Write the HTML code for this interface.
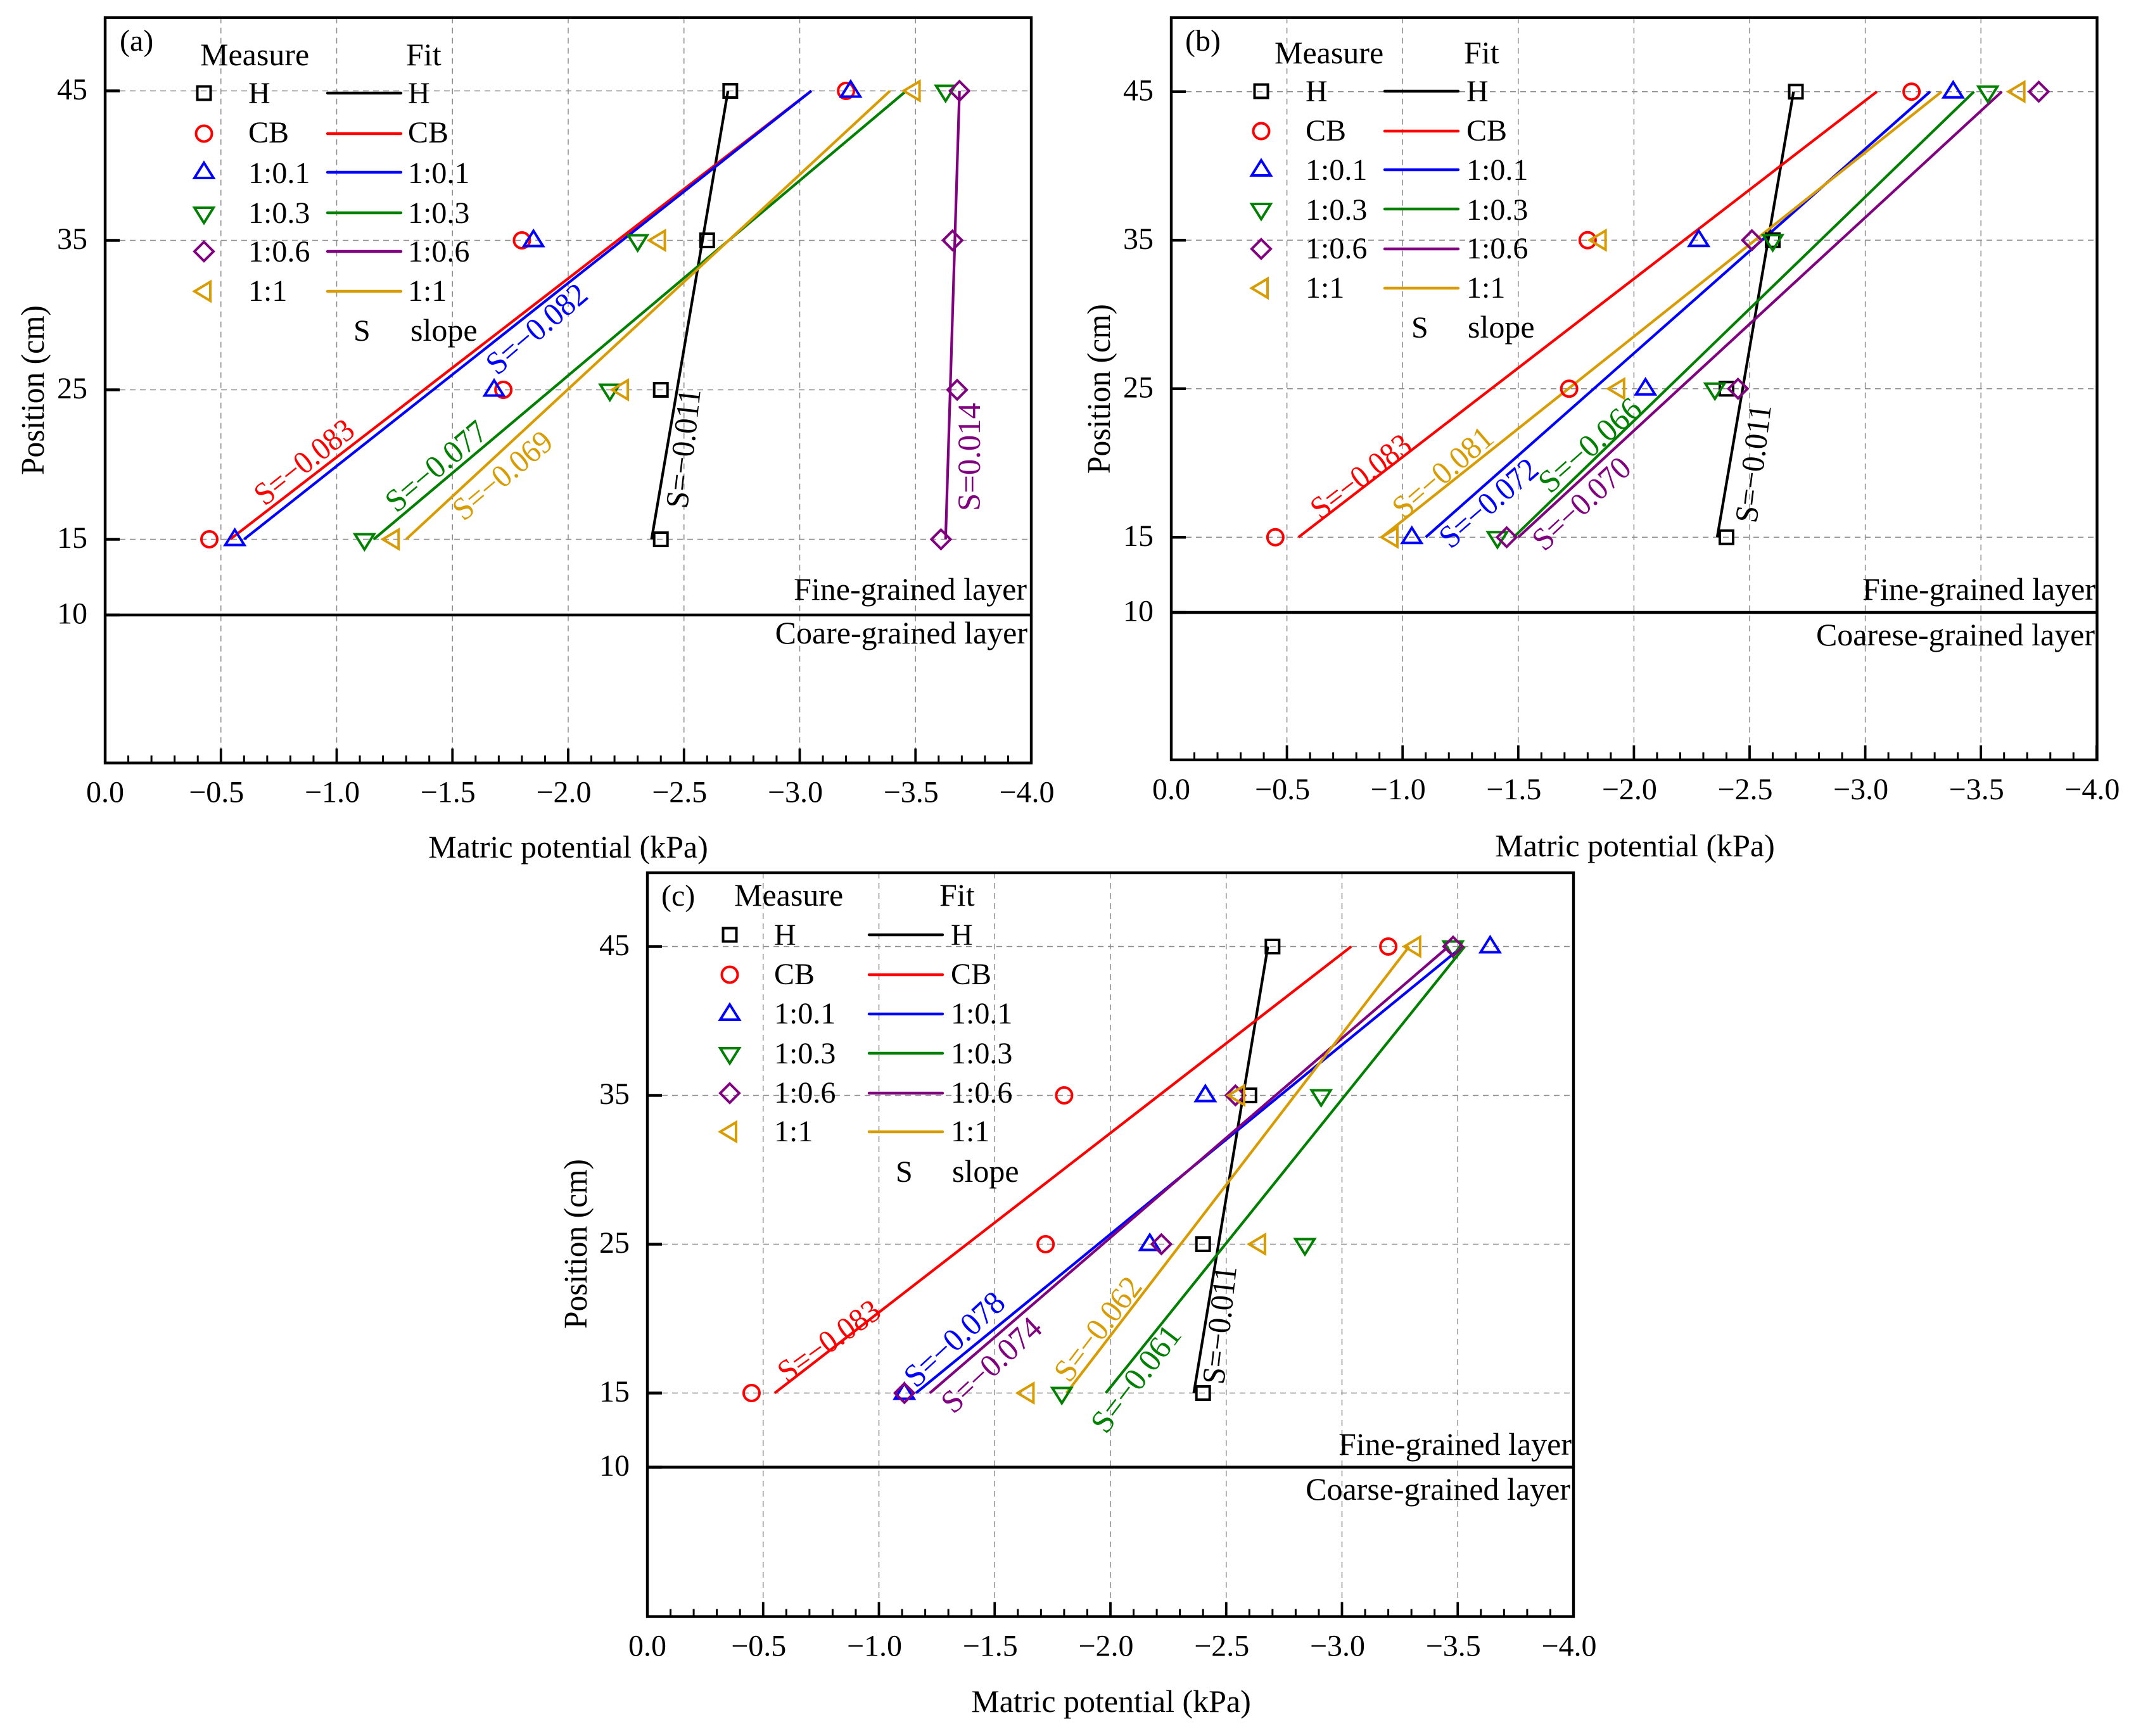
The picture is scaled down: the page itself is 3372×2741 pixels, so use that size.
<!DOCTYPE html>
<html lang="en">
<head>
<meta charset="utf-8">
<title>Matric potential profiles</title>
<style>
html,body{margin:0;padding:0;background:#fff;}
svg{display:block;font-family:"Liberation Serif",serif;}
</style>
</head>
<body>
<svg id="chart" xmlns="http://www.w3.org/2000/svg" width="3372" height="2741" viewBox="0 0 3372 2741"></svg>
<script>
// ---------- shared categories and tick labels ----------
const seriesNames = ['H', 'CB', '1:0.1', '1:0.3', '1:0.6', '1:1'];
const seriesKeys = ['h', 'cb', 'r01', 'r03', 'r06', 'r1'];
const measuredDepths = [45, 35, 25, 15];
const fitDepths = [15, 45];
const xTickValues = [0, -0.5, -1, -1.5, -2, -2.5, -3, -3.5, -4];
const xTickLabels = ['0.0', '−0.5', '−1.0', '−1.5', '−2.0', '−2.5', '−3.0', '−3.5', '−4.0'];
const yTickValues = [45, 35, 25, 15, 10];
const yTickLabels = ['45', '35', '25', '15', '10'];

// ---------- panel (a) values ----------
const aMeasuredH = [-2.70, -2.60, -2.40, -2.40];
const aMeasuredCB = [-3.20, -1.80, -1.72, -0.45];
const aMeasured01 = [-3.22, -1.85, -1.68, -0.56];
const aMeasured03 = [-3.63, -2.30, -2.18, -1.12];
const aMeasured06 = [-3.69, -3.66, -3.68, -3.61];
const aMeasured1 = [-3.49, -2.39, -2.23, -1.24];
const aFitH = [-2.36, -2.69];
const aFitCB = [-0.54, -3.05];
const aFit01 = [-0.60, -3.05];
const aFit03 = [-1.16, -3.46];
const aFit06 = [-3.63, -3.69];
const aFit1 = [-1.30, -3.39];
const aSlopes = ['S=−0.011', 'S=−0.083', 'S=−0.082', 'S=−0.077', 'S=0.014', 'S=−0.069'];

// ---------- panel (b) values ----------
const bMeasuredH = [-2.70, -2.60, -2.40, -2.40];
const bMeasuredCB = [-3.20, -1.80, -1.72, -0.45];
const bMeasured01 = [-3.38, -2.28, -2.05, -1.04];
const bMeasured03 = [-3.53, -2.60, -2.35, -1.41];
const bMeasured06 = [-3.75, -2.51, -2.45, -1.45];
const bMeasured1 = [-3.66, -1.85, -1.93, -0.95];
const bFitH = [-2.36, -2.69];
const bFitCB = [-0.55, -3.05];
const bFit01 = [-1.10, -3.28];
const bFit03 = [-1.48, -3.47];
const bFit06 = [-1.50, -3.59];
const bFit1 = [-0.91, -3.33];
const bSlopes = ['S=−0.011', 'S=−0.083', 'S=−0.072', 'S=−0.066', 'S=−0.070', 'S=−0.081'];

// ---------- panel (c) values ----------
const cMeasuredH = [-2.70, -2.60, -2.40, -2.40];
const cMeasuredCB = [-3.20, -1.80, -1.72, -0.45];
const cMeasured01 = [-3.64, -2.41, -2.17, -1.11];
const cMeasured03 = [-3.48, -2.91, -2.84, -1.79];
const cMeasured06 = [-3.48, -2.54, -2.22, -1.11];
const cMeasured1 = [-3.31, -2.55, -2.64, -1.64];
const cFitH = [-2.36, -2.68];
const cFitCB = [-0.55, -3.04];
const cFit01 = [-1.16, -3.52];
const cFit03 = [-1.98, -3.53];
const cFit06 = [-1.22, -3.46];
const cFit1 = [-1.81, -3.29];
const cSlopes = ['S=−0.011', 'S=−0.083', 'S=−0.078', 'S=−0.061', 'S=−0.074', 'S=−0.062'];

// ---------- styling and layout (not data) ----------
const seriesColors = ['#000000', '#ff0000', '#0000ff', '#008000', '#800080', '#d89c00'];
const FONT_MAIN = 48;
const FONT_SLOPE = 51;

const panels = [
  {
    id: 'a', tag: '(a)', left: 166, right: 1628, top: 27.7, bottom: 1204.7, y0: 1205.5, yPer: 23.6, xPer: 365.5,
    measured: [aMeasuredH, aMeasuredCB, aMeasured01, aMeasured03, aMeasured06, aMeasured1],
    fit: [aFitH, aFitCB, aFit01, aFit03, aFit06, aFit1],
    slopes: aSlopes,
    slopePlace: [[1085,804,1106,616],[418,800,563,685],[785,594,931,470],[626,811,773,687],[1547,807,1547,636],[732,824,876,703]],
    layerLineY: 971,
    fine: 'Fine-grained layer', fineX: 1621, fineY: 947,
    coarse: 'Coare-grained layer', coarseX: 1622, coarseY: 1016,
    tagX: 189, tagY: 80,
    headY: 103, measureX: 316, fitX: 641,
    markerX: 322, textX: 392, lineX1: 517, lineX2: 633, fitTextX: 644,
    rowY: [147, 211, 272, 336, 397, 460],
    rowBase: [163, 225, 289, 352, 413, 475],
    sX: 558, slopeX: 648, slopeY: 538,
    xTitleX: 897, xTitleY: 1354, yTitleX: 69, yTitleY: 616
  },
  {
    id: 'b', tag: '(b)', left: 1849, right: 3310.5, top: 27.7, bottom: 1199.8, y0: 1200, yPer: 23.45, xPer: 365.2,
    measured: [bMeasuredH, bMeasuredCB, bMeasured01, bMeasured03, bMeasured06, bMeasured1],
    fit: [bFitH, bFitCB, bFit01, bFit03, bFit06, bFit1],
    slopes: bSlopes,
    slopePlace: [[2773,827,2796,641],[2085,822,2232,709],[2290,868,2432,746],[2447,781,2595,650],[2438,872,2578,743],[2216,821,2361,696]],
    layerLineY: 967,
    fine: 'Fine-grained layer', fineX: 3308, fineY: 947,
    coarse: 'Coarese-grained layer', coarseX: 3307, coarseY: 1019,
    tagX: 1871, tagY: 80,
    headY: 100, measureX: 2012, fitX: 2311,
    markerX: 1991, textX: 2061, lineX1: 2186, lineX2: 2302, fitTextX: 2315,
    rowY: [144, 207, 268, 330, 393, 455],
    rowBase: [160, 222, 284, 347, 408, 470],
    sX: 2228, slopeX: 2317, slopeY: 533,
    xTitleX: 2581, xTitleY: 1352, yTitleX: 1752, yTitleY: 614
  },
  {
    id: 'c', tag: '(c)', left: 1022, right: 2484, top: 1378, bottom: 2552.5, y0: 2552, yPer: 23.5, xPer: 365.5,
    measured: [cMeasuredH, cMeasuredCB, cMeasured01, cMeasured03, cMeasured06, cMeasured1],
    fit: [cFitH, cFitCB, cFit01, cFit03, cFit06, cFit1],
    slopes: cSlopes,
    slopePlace: [[1932,2187,1952,2001],[1243,2185,1394,2077],[1446,2193,1590,2061],[1746,2266,1867,2108],[1505,2234,1648,2101],[1688,2185,1805,2032]],
    layerLineY: 2316.5,
    fine: 'Fine-grained layer', fineX: 2481, fineY: 2297,
    coarse: 'Coarse-grained layer', coarseX: 2479, coarseY: 2368,
    tagX: 1044, tagY: 1430,
    headY: 1430, measureX: 1159, fitX: 1483,
    markerX: 1152, textX: 1222, lineX1: 1372, lineX2: 1488, fitTextX: 1501,
    rowY: [1476, 1539, 1601, 1663, 1726, 1787],
    rowBase: [1492, 1554, 1616, 1679, 1741, 1802],
    sX: 1414, slopeX: 1503, slopeY: 1866,
    xTitleX: 1754, xTitleY: 2703, yTitleX: 926, yTitleY: 1964
  }
];

// ---------- drawing helpers ----------
const NS = 'http://www.w3.org/2000/svg';
const root = document.getElementById('chart');

function make(tag, parent, attrs, content) {
  const node = document.createElementNS(NS, tag);
  for (const k in attrs) node.setAttribute(k, attrs[k]);
  if (content !== undefined) node.textContent = content;
  parent.appendChild(node);
  return node;
}

function markerShape(kind, parent, cx, cy, color) {
  const base = { fill: 'none', stroke: color, 'stroke-width': 4, 'stroke-miterlimit': 8 };
  if (kind === 0) return make('rect', parent, Object.assign({ x: cx - 10.5, y: cy - 10.5, width: 21, height: 21 }, base));
  if (kind === 1) return make('circle', parent, Object.assign({ cx: cx, cy: cy, r: 12.5 }, base));
  let pts;
  if (kind === 2) pts = [[cx, cy - 15], [cx + 15, cy + 9], [cx - 15, cy + 9]];
  if (kind === 3) pts = [[cx - 15, cy - 8], [cx + 15, cy - 8], [cx, cy + 16]];
  if (kind === 4) pts = [[cx, cy - 15], [cx + 15, cy], [cx, cy + 15], [cx - 15, cy]];
  if (kind === 5) pts = [[cx - 15, cy], [cx + 10, cy - 15], [cx + 10, cy + 15]];
  return make('polygon', parent, Object.assign({ points: pts.map(p => p.join(',')).join(' ') }, base));
}

function drawPanel(p) {
  const xScale = v => p.left + (-v) * p.xPer;
  const yScale = v => p.y0 - v * p.yPer;

  const g = make('g', root, {});
  
  

  // grid
  xTickValues.forEach(v => {
    if (v === 0 || v === -4) return;
    const el = make('line', g, { x1: xScale(v), x2: xScale(v), y1: p.top, y2: p.bottom, stroke: '#8c8c8c', 'stroke-width': 1.5, 'stroke-dasharray': '9 7' });
    
    
  });
  measuredDepths.forEach(v => {
    const el = make('line', g, { x1: p.left + 23, x2: p.right, y1: yScale(v), y2: yScale(v), stroke: '#8c8c8c', 'stroke-width': 1.5, 'stroke-dasharray': '9 7' });
    
    
  });

  // fit lines
  p.fit.forEach((vals, i) => {
    const el = make('line', g, {
      x1: xScale(vals[0]), y1: yScale(fitDepths[0]),
      x2: xScale(vals[1]), y2: yScale(fitDepths[1]),
      stroke: seriesColors[i], 'stroke-width': 4.2
    });
    
    
  });

  // measured points
  p.measured.forEach((vals, i) => {
    vals.forEach((v, j) => {
      const el = markerShape(i, g, xScale(v), yScale(measuredDepths[j]), seriesColors[i]);
      
      
    });
  });

  // frame
  const frame = make('rect', g, { x: p.left, y: p.top, width: p.right - p.left, height: p.bottom - p.top, fill: 'none', stroke: '#000', 'stroke-width': 4.4 });
  
  

  // x ticks
  for (let k = 0; k <= 40; k++) {
    const major = k % 5 === 0;
    const px = p.left + (k / 10) * p.xPer;
    const el = make('line', g, { x1: px, x2: px, y1: p.bottom, y2: p.bottom - (major ? 23 : 12), stroke: '#000', 'stroke-width': major ? 3.8 : 3 });
    
    
  }
  xTickValues.forEach((v, i) => {
    const el = make('text', g, { x: xScale(v) - (v === 0 ? 0 : 7), y: p.bottom + 62, 'text-anchor': 'middle', 'font-size': FONT_MAIN, fill: '#000' }, xTickLabels[i]);
    
    
  });

  // y ticks
  yTickValues.forEach((v, i) => {
    const py = v === 10 ? p.layerLineY : yScale(v);
    const t = make('line', g, { x1: p.left, x2: p.left + 23, y1: py, y2: py, stroke: '#000', 'stroke-width': 4.5 });
    
    
    const el = make('text', g, { x: p.left - 28, y: py + 13.5, 'text-anchor': 'end', 'font-size': FONT_MAIN, fill: '#000' }, yTickLabels[i]);
    
    
  });

  // layer boundary
  const boundary = make('line', g, { x1: p.left, x2: p.right, y1: p.layerLineY, y2: p.layerLineY, stroke: '#000', 'stroke-width': 4.4 });
  
  

  const fine = make('text', g, { x: p.fineX, y: p.fineY, 'text-anchor': 'end', 'font-size': 50, fill: '#000' }, p.fine);
  
  
  const coarse = make('text', g, { x: p.coarseX, y: p.coarseY, 'text-anchor': 'end', 'font-size': 50, fill: '#000' }, p.coarse);
  
  

  // slope annotations
  p.slopes.forEach((label, i) => {
    const q = p.slopePlace[i];
    const len = Math.hypot(q[2] - q[0], q[3] - q[1]);
    const ang = Math.atan2(q[3] - q[1], q[2] - q[0]) * 180 / Math.PI;
    const el = make('text', g, {
      x: 0, y: 0,
      transform: 'translate(' + q[0] + ' ' + q[1] + ') rotate(' + ang.toFixed(2) + ')',
      'font-size': FONT_SLOPE, fill: seriesColors[i],
      textLength: len.toFixed(1), lengthAdjust: 'spacingAndGlyphs'
    }, label);
    
    
  });

  // panel tag
  const tag = make('text', g, { x: p.tagX, y: p.tagY, 'font-size': FONT_MAIN, fill: '#000' }, p.tag);
  
  

  // legend
  const lg = make('g', g, {});
  
  
  const headM = make('text', lg, { x: p.measureX, y: p.headY, 'font-size': 50, fill: '#000' }, 'Measure');
  
  
  const headF = make('text', lg, { x: p.fitX, y: p.headY, 'font-size': 50, fill: '#000' }, 'Fit');
  
  
  seriesNames.forEach((name, i) => {
    const mk = markerShape(i, lg, p.markerX, p.rowY[i], seriesColors[i]);
    
    
    const t1 = make('text', lg, { x: p.textX, y: p.rowBase[i], 'font-size': FONT_MAIN, fill: '#000' }, name);
    
    
    const ln = make('line', lg, { x1: p.lineX1, x2: p.lineX2, y1: p.rowY[i], y2: p.rowY[i], stroke: seriesColors[i], 'stroke-width': 4.4, 'stroke-linecap': 'round' });
    
    
    const t2 = make('text', lg, { x: p.fitTextX, y: p.rowBase[i], 'font-size': FONT_MAIN, fill: '#000' }, name);
    
    
  });
  const sKey = make('text', lg, { x: p.sX, y: p.slopeY, 'font-size': FONT_MAIN, fill: '#000' }, 'S');
  
  
  const sText = make('text', lg, { x: p.slopeX, y: p.slopeY, 'font-size': 50, fill: '#000' }, 'slope');
  
  

  // axis titles
  const xt = make('text', g, { x: p.xTitleX, y: p.xTitleY, 'text-anchor': 'middle', 'font-size': 50, fill: '#000' }, 'Matric potential (kPa)');
  
  
  const yt = make('text', g, {
    x: 0, y: 0, transform: 'translate(' + p.yTitleX + ' ' + p.yTitleY + ') rotate(-90)',
    'text-anchor': 'middle', 'font-size': 52, fill: '#000', textLength: 268, lengthAdjust: 'spacingAndGlyphs'
  }, 'Position (cm)');
  
  
}

panels.forEach(drawPanel);
</script>
</body>
</html>
